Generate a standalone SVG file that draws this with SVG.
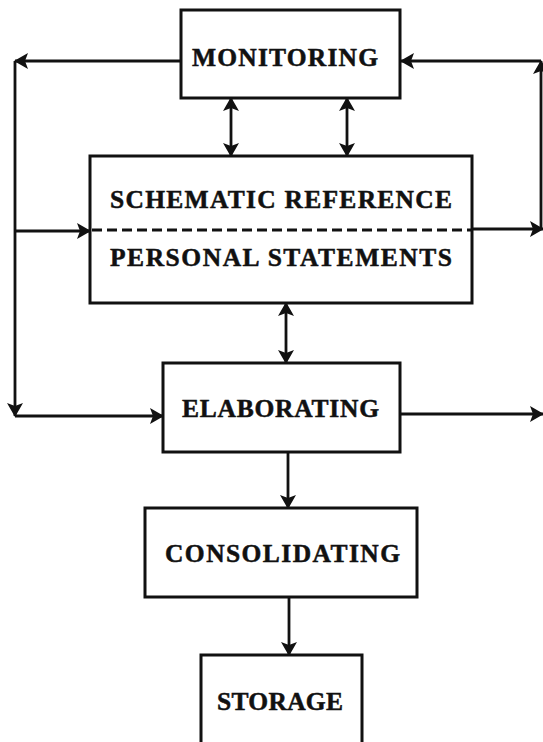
<svg xmlns="http://www.w3.org/2000/svg" width="543" height="742" viewBox="0 0 543 742">
  <style>
    .box { fill: #fff; stroke: #111; stroke-width: 3; }
    .lbl { font-family: "Liberation Serif", "Times New Roman", serif; font-weight: bold; font-size: 25.5px; fill: #111; stroke: #111; stroke-width: 0.5; }
    .wire { fill: none; stroke: #111; stroke-width: 2.8; }
    .arrow { marker-end: url(#head); }
    .both { marker-start: url(#head); marker-end: url(#head); }
    .divider { fill: none; stroke: #111; stroke-width: 3; stroke-dasharray: 10 5; }
  </style>
  <defs>
    <marker id="head" viewBox="0 0 14 16" refX="13" refY="8" markerWidth="14" markerHeight="16" markerUnits="userSpaceOnUse" orient="auto-start-reverse">
      <path d="M0,0 L14,8 L0,16 L3,8 z" fill="#111"/>
    </marker>
  </defs>
  <rect width="543" height="742" fill="#fff"/>

  <g id="connectors">
    <!-- feedback loop on the left: monitoring out, down to schematic and elaborating -->
    <path class="wire arrow" d="M181,61 L15,61"/>
    <path class="wire arrow" d="M15,61 L15,416"/>
    <path class="wire arrow" d="M15,231 L90,231"/>
    <path class="wire arrow" d="M15,416 L163,416"/>
    <!-- right side: outputs and return path into monitoring -->
    <path class="wire arrow" d="M472,229 L543,229"/>
    <path class="wire arrow" d="M400,414 L543,414"/>
    <path class="wire arrow" d="M541,229 L541,61"/>
    <path class="wire arrow" d="M541,61 L401,61"/>
    <!-- two-way links -->
    <path class="wire both" d="M231,98 L231,156"/>
    <path class="wire both" d="M347,98 L347,156"/>
    <path class="wire both" d="M286,303 L286,363"/>
    <!-- downward flow -->
    <path class="wire arrow" d="M288,452 L288,508"/>
    <path class="wire arrow" d="M289,597 L289,655"/>
  </g>

  <g id="monitoring">
    <rect class="box" x="181" y="10" width="219" height="88"/>
    <text class="lbl" x="192" y="66" textLength="186" lengthAdjust="spacing">MONITORING</text>
  </g>

  <g id="schematic">
    <rect class="box" x="90" y="156" width="382" height="147"/>
    <line class="divider" x1="92" y1="230" x2="472" y2="230"/>
    <text class="lbl" x="110" y="208" textLength="342" lengthAdjust="spacing">SCHEMATIC REFERENCE</text>
    <text class="lbl" x="110" y="266" textLength="342" lengthAdjust="spacing">PERSONAL STATEMENTS</text>
  </g>

  <g id="elaborating">
    <rect class="box" x="163" y="363" width="237" height="89"/>
    <text class="lbl" x="182" y="417" textLength="197" lengthAdjust="spacing">ELABORATING</text>
  </g>

  <g id="consolidating">
    <rect class="box" x="145" y="508" width="272" height="89"/>
    <text class="lbl" x="165" y="562" textLength="235" lengthAdjust="spacing">CONSOLIDATING</text>
  </g>

  <g id="storage">
    <rect class="box" x="201" y="655" width="161" height="100"/>
    <text class="lbl" x="217" y="710" textLength="126" lengthAdjust="spacing">STORAGE</text>
  </g>
</svg>
